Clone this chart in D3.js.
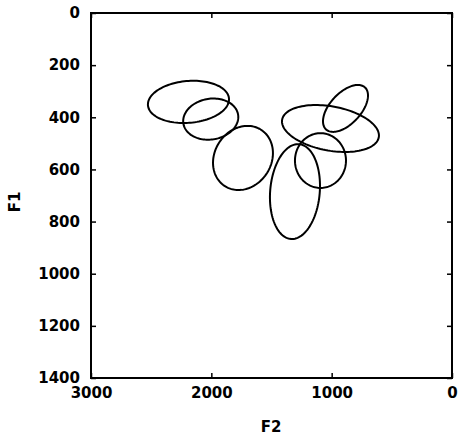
<!DOCTYPE html>
<html>
<head>
<meta charset="utf-8">
<script src="https://cdn.jsdelivr.net/npm/d3@7/dist/d3.min.js"></script>
<style>
  html, body { margin: 0; padding: 0; background: #fff; }
  svg { display: block; }
  text { font-family: "DejaVu Sans", sans-serif; font-weight: bold; fill: #000; }
</style>
</head>
<body>
<svg id="chart" width="458" height="437"></svg>
<script>
// Vowel ellipses: centre F2, centre F1 (Hz), spread F2, spread F1 (Hz), correlation
const vowelNames = ["a1", "a2", "a3", "a4", "a5", "a6", "a7"];
const centerF2 = [2190, 2005, 1737, 1305, 1010, 885, 1093];
const centerF1 = [341, 407, 556, 685, 443, 366, 566];
const spreadF2 = [337, 229, 249, 208, 403, 187, 212];
const spreadF1 = [81, 79, 123, 182, 90, 90, 105];
const correlation = [0.12, 0.1, 0.15, 0.12, -0.3, 0.55, 0.0];

const xTicks = [3000, 2000, 1000, 0];
const yTicks = [0, 200, 400, 600, 800, 1000, 1200, 1400];

const svg = d3.select("#chart");
const mLeft = 91, mRight = 452, mTop = 13, mBottom = 378;

const x = d3.scaleLinear().domain([3000, 0]).range([mLeft, mRight]);
const y = d3.scaleLinear().domain([0, 1400]).range([mTop, mBottom]);

function styleAxis(g) {
  g.select(".domain").remove();
  g.selectAll(".tick line").attr("stroke", "#000").attr("stroke-width", 1.5);
  g.selectAll(".tick text").attr("font-size", 15).attr("font-family", "DejaVu Sans").attr("font-weight", "bold");
}

svg.append("g").attr("transform", `translate(${mLeft},0)`)
  .call(d3.axisLeft(y).tickValues(yTicks).tickSizeInner(-5).tickSizeOuter(0).tickPadding(11).tickFormat(d3.format("d")))
  .call(styleAxis);
svg.append("g").attr("transform", `translate(${mRight},0)`)
  .call(d3.axisRight(y).tickValues(yTicks).tickSizeInner(-5).tickSizeOuter(0).tickFormat(""))
  .call(styleAxis);
svg.append("g").attr("transform", `translate(0,${mBottom})`)
  .call(d3.axisBottom(x).tickValues(xTicks).tickSizeInner(-5).tickSizeOuter(0).tickPadding(9).tickFormat(d3.format("d")))
  .call(styleAxis);
svg.append("g").attr("transform", `translate(0,${mTop})`)
  .call(d3.axisTop(x).tickValues(xTicks).tickSizeInner(-5).tickSizeOuter(0).tickFormat(""))
  .call(styleAxis);

svg.append("rect")
  .attr("x", mLeft).attr("y", mTop)
  .attr("width", mRight - mLeft).attr("height", mBottom - mTop)
  .attr("fill", "none").attr("stroke", "#000").attr("stroke-width", 2);

const line = d3.line().x(d => x(d[0])).y(d => y(d[1])).curve(d3.curveLinearClosed);
const N = 120;
vowelNames.forEach((name, i) => {
  const r = correlation[i];
  const pts = d3.range(N).map(k => {
    const t = 2 * Math.PI * k / N;
    return [
      centerF2[i] + spreadF2[i] * Math.cos(t),
      centerF1[i] + spreadF1[i] * (r * Math.cos(t) + Math.sqrt(1 - r * r) * Math.sin(t))
    ];
  });
  svg.append("path")
    .attr("d", line(pts))
    .attr("fill", "none")
    .attr("stroke", "#000")
    .attr("stroke-width", 2);
});

svg.append("text")
  .attr("x", 271).attr("y", 432)
  .attr("text-anchor", "middle")
  .attr("font-size", 15)
  .text("F2");
svg.append("text")
  .attr("transform", "translate(20,202) rotate(-90)")
  .attr("text-anchor", "middle")
  .attr("font-size", 15)
  .text("F1");
</script>
</body>
</html>
